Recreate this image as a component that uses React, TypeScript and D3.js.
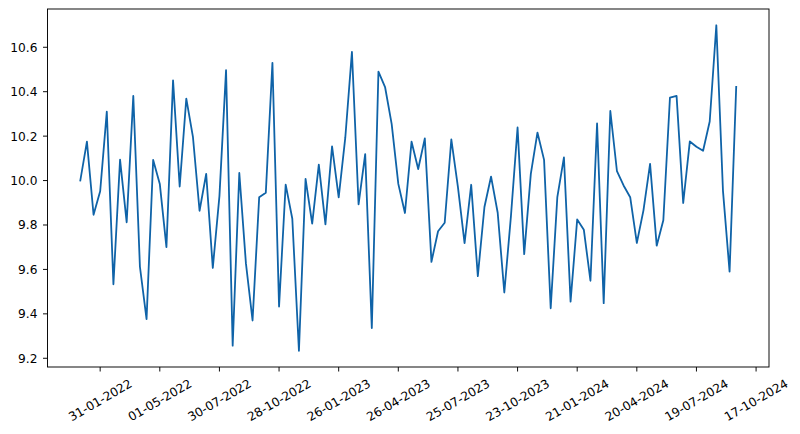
import React, { useEffect, useRef } from 'react';
import * as d3 from 'd3';

// series sampled every 10 days starting 01-01-2022
const startDate = '2022-01-01';
const stepDays = 10;

const values: number[] = [
  10.0, 10.175, 9.846, 9.952, 10.31, 9.533, 10.094, 9.812, 10.381, 9.612,
  9.376, 10.093, 9.985, 9.7, 10.451, 9.973, 10.369, 10.197, 9.864, 10.03,
  9.607, 9.93, 10.497, 9.257, 10.034, 9.627, 9.37, 9.925, 9.945, 10.53,
  9.433, 9.982, 9.828, 9.234, 10.007, 9.806, 10.072, 9.803, 10.154, 9.924,
  10.194, 10.579, 9.893, 10.119, 9.336, 10.49, 10.421, 10.254, 9.985, 9.854,
  10.175, 10.052, 10.19, 9.634, 9.772, 9.81, 10.185, 9.97, 9.718, 9.981,
  9.57, 9.881, 10.018, 9.855, 9.496, 9.84, 10.239, 9.669, 10.03, 10.216,
  10.093, 9.425, 9.925, 10.104, 9.455, 9.825, 9.779, 9.549, 10.257, 9.448,
  10.313, 10.042, 9.978, 9.925, 9.719, 9.866, 10.075, 9.707, 9.821, 10.373,
  10.381, 9.899, 10.176, 10.152, 10.134, 10.266, 10.699, 9.955, 9.59, 10.422,
];

const xTickLabels: string[] = [
  '31-01-2022', '01-05-2022', '30-07-2022', '28-10-2022', '26-01-2023', '26-04-2023',
  '25-07-2023', '23-10-2023', '21-01-2024', '20-04-2024', '19-07-2024', '17-10-2024',
];

const yTicks: number[] = [9.2, 9.4, 9.6, 9.8, 10.0, 10.2, 10.4, 10.6];

const W = 800;
const H = 434;

const App: React.FC = () => {
  const svgRef = useRef<SVGSVGElement>(null);

  useEffect(() => {
    if (!svgRef.current) return;
    const margin = { top: 9, right: 31, bottom: 67, left: 47.5 };
    const x0 = margin.left;
    const x1 = W - margin.right;
    const y0 = margin.top;
    const y1 = H - margin.bottom;

    const svg = d3.select(svgRef.current);
    svg.selectAll('*').remove();

    const parseDMY = d3.utcParse('%d-%m-%Y');
    const start = d3.utcParse('%Y-%m-%d')(startDate) as Date;
    const data = values.map((v, i) => ({ date: d3.utcDay.offset(start, i * stepDays), value: v }));

    const [dMin, dMax] = d3.extent(data, d => d.date) as [Date, Date];
    const span = +dMax - +dMin;
    const x = d3.scaleUtc()
      .domain([new Date(+dMin - span * 0.05), new Date(+dMax + span * 0.05)])
      .range([x0, x1]);

    const [vMin, vMax] = d3.extent(values) as [number, number];
    const vPad = (vMax - vMin) * 0.05;
    const y = d3.scaleLinear()
      .domain([vMin - vPad, vMax + vPad])
      .range([y1, y0]);

    const font = 'DejaVu Sans, sans-serif';
    const fs = 12.2;
    const tickLen = 4.5;

    svg.append('rect')
      .attr('width', W).attr('height', H).attr('fill', 'white');

    // line
    const line = d3.line<{ date: Date; value: number }>()
      .x(d => x(d.date))
      .y(d => y(d.value));

    svg.append('path')
      .datum(data)
      .attr('d', line)
      .attr('fill', 'none')
      .attr('stroke', '#0f63a8')
      .attr('stroke-width', 1.8)
      .attr('stroke-linejoin', 'round')
      .attr('stroke-linecap', 'square');

    // frame
    svg.append('rect')
      .attr('x', x0).attr('y', y0)
      .attr('width', x1 - x0).attr('height', y1 - y0)
      .attr('fill', 'none')
      .attr('stroke', 'black')
      .attr('stroke-width', 0.95);

    // y axis
    const gy = svg.append('g');
    yTicks.forEach(t => {
      gy.append('line')
        .attr('x1', x0).attr('x2', x0 - tickLen)
        .attr('y1', y(t)).attr('y2', y(t))
        .attr('stroke', 'black').attr('stroke-width', 0.95);
      gy.append('text')
        .attr('x', x0 - 10)
        .attr('y', y(t))
        .attr('dy', '0.36em')
        .attr('text-anchor', 'end')
        .attr('font-family', font)
        .attr('font-size', fs)
        .attr('fill', 'black')
        .text(d3.format('.1f')(t));
    });

    // x axis, labels rotated 30deg around their centre
    const gx = svg.append('g');
    xTickLabels.forEach(lbl => {
      const tx = x(parseDMY(lbl) as Date);
      gx.append('line')
        .attr('x1', tx).attr('x2', tx)
        .attr('y1', y1).attr('y2', y1 + tickLen)
        .attr('stroke', 'black').attr('stroke-width', 0.95);
      const cy = y1 + 33;
      gx.append('text')
        .attr('x', tx)
        .attr('y', cy)
        .attr('dy', '0.36em')
        .attr('text-anchor', 'middle')
        .attr('transform', `rotate(-30,${tx},${cy})`)
        .attr('font-family', font)
        .attr('font-size', fs)
        .attr('fill', 'black')
        .text(lbl);
    });
  }, []);

  return (
    <div style={{ position: 'absolute', left: 0, top: 0, width: W, height: H }}>
      <svg ref={svgRef} width={W} height={H} style={{ display: 'block' }}></svg>
    </div>
  );
};

export default App;
